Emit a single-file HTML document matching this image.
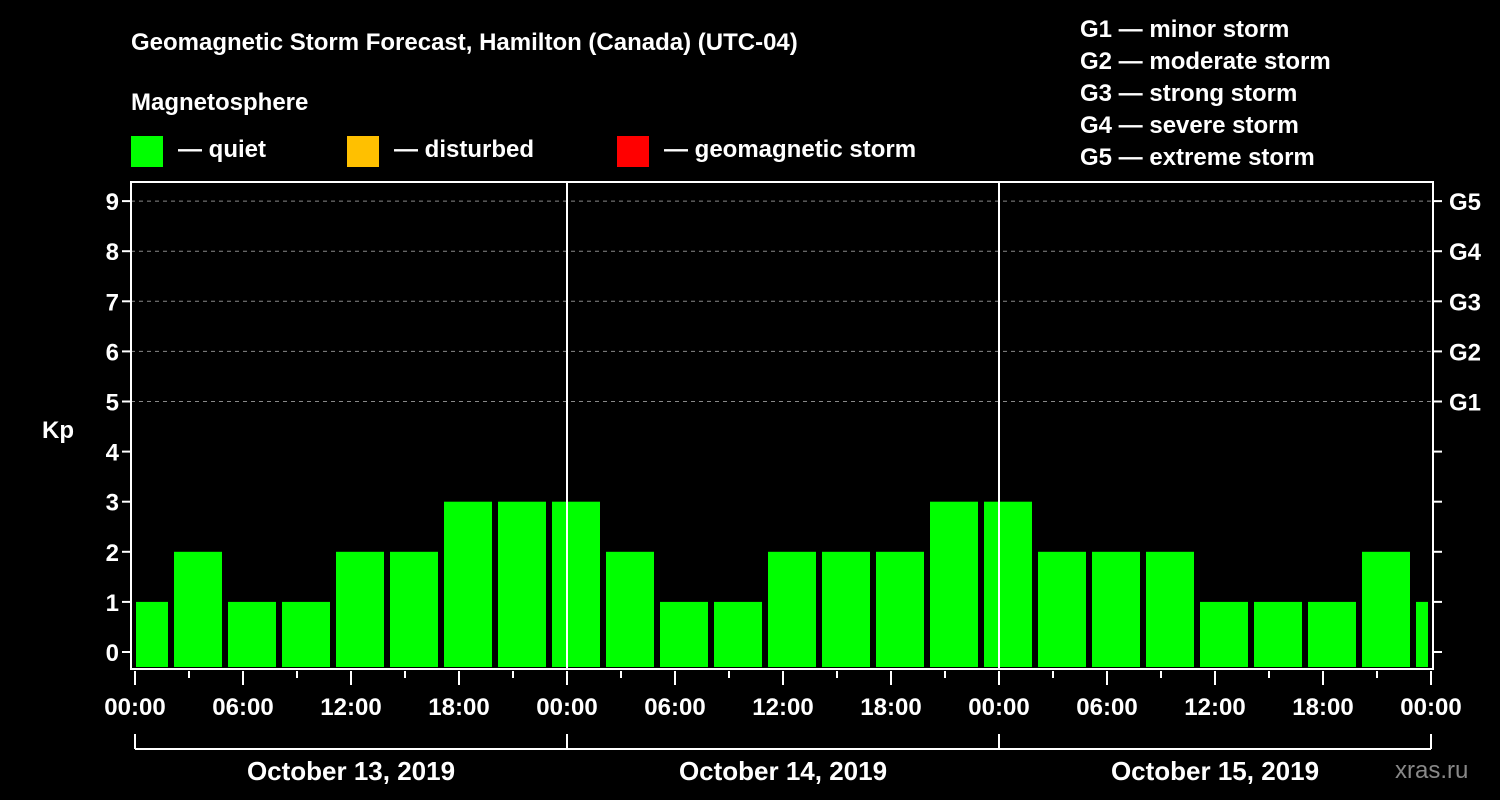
<!DOCTYPE html>
<html><head><meta charset="utf-8"><style>
html,body{margin:0;padding:0;background:#000;}
svg{display:block;font-family:"Liberation Sans",Arial,sans-serif;font-weight:bold;}
</style></head><body>
<svg id="chart" width="1500" height="800" viewBox="0 0 1500 800">
<rect width="1500" height="800" fill="#000"/>
<text x="131" y="50" fill="#fff" font-size="24">Geomagnetic Storm Forecast, Hamilton (Canada) (UTC-04)</text>
<text x="131" y="110" fill="#fff" font-size="24">Magnetosphere</text>
<g>
<rect x="131" y="136" width="32" height="31" fill="#00ff00"/>
<text x="178" y="157" fill="#fff" font-size="24">— quiet</text>
<rect x="347" y="136" width="32" height="31" fill="#ffc000"/>
<text x="394" y="157" fill="#fff" font-size="24">— disturbed</text>
<rect x="617" y="136" width="32" height="31" fill="#ff0000"/>
<text x="664" y="157" fill="#fff" font-size="24">— geomagnetic storm</text>
</g>
<g fill="#fff" font-size="24">
<text x="1080" y="37">G1 — minor storm</text>
<text x="1080" y="69">G2 — moderate storm</text>
<text x="1080" y="101">G3 — strong storm</text>
<text x="1080" y="133">G4 — severe storm</text>
<text x="1080" y="165">G5 — extreme storm</text>
</g>
<text x="42" y="438" fill="#fff" font-size="24">Kp</text>
<text x="1395" y="778" fill="#888" font-size="24" font-weight="normal">xras.ru</text>
<g id="plot"></g>
</svg>
<script>
const kpValues=[1,2,1,1,2,2,3,3,3,2,1,1,2,2,2,3,3,2,2,2,1,1,1,2,1];
const yTicks=[0,1,2,3,4,5,6,7,8,9];
const gLabels=["","","","","","G1","G2","G3","G4","G5"];
const xTickLabels=["00:00","06:00","12:00","18:00","00:00","06:00","12:00","18:00","00:00","06:00","12:00","18:00","00:00"];
const dateLabels=["October 13, 2019","October 14, 2019","October 15, 2019"];
const NS="http://www.w3.org/2000/svg";
const X0=135,PXH=18,Y0=652,PXV=50.1,L=131,R=1433,T=182,B=669;
const xs=h=>X0+h*PXH, ys=v=>Y0-v*PXV;
const g=document.getElementById('plot');
function mk(tag,attrs,parent){const e=document.createElementNS(NS,tag);for(const k in attrs)e.setAttribute(k,attrs[k]);(parent||g).appendChild(e);return e;}
const defs=mk('defs',{});
const cp=mk('clipPath',{id:'clip'},defs);
mk('rect',{x:136,y:T,width:1428-136,height:B-T},cp);
// grid
yTicks.forEach(v=>{if(v>=5){const l=mk('line',{x1:L,x2:R,y1:ys(v),y2:ys(v),stroke:'#888','stroke-dasharray':'4,4','stroke-width':1});

}});
// bars
const bg=mk('g',{'clip-path':'url(#clip)'});
kpValues.forEach((v,i)=>{const h=3*i-1;const r=mk('rect',{x:xs(h)+3,y:ys(v),width:3*PXH-6,height:B-2-ys(v),fill:'#00ff00'},bg);

});
// day separators
[1,2].forEach(d=>{const l=mk('line',{x1:xs(24*d),x2:xs(24*d),y1:T,y2:B,stroke:'#fff','stroke-width':2});

});
// frame
const f=mk('rect',{x:L,y:T,width:R-L,height:B-T,fill:'none',stroke:'#fff','stroke-width':2});


// y ticks
yTicks.forEach(v=>{
mk('line',{x1:L-9,x2:L,y1:ys(v),y2:ys(v),stroke:'#fff','stroke-width':2});
mk('line',{x1:R,x2:R+9,y1:ys(v),y2:ys(v),stroke:'#fff','stroke-width':2});
const t=mk('text',{x:L-12,y:ys(v)+9,fill:'#fff','font-size':24,'text-anchor':'end'});t.textContent=v;


if(gLabels[v]){const gt=mk('text',{x:1449,y:ys(v)+9,fill:'#fff','font-size':24});gt.textContent=gLabels[v];

}
});
// x ticks
for(let h=0;h<=72;h+=3){const long=h%6===0;mk('line',{x1:xs(h),x2:xs(h),y1:B+2,y2:long?B+16:B+9,stroke:'#fff','stroke-width':2});}
xTickLabels.forEach((s,i)=>{const t=mk('text',{x:xs(6*i),y:715,fill:'#fff','font-size':24,'text-anchor':'middle'});t.textContent=s;

});
// date bracket
mk('line',{x1:xs(0),x2:xs(72),y1:749,y2:749,stroke:'#fff','stroke-width':2});
for(let d=0;d<=3;d++)mk('line',{x1:xs(24*d),x2:xs(24*d),y1:734,y2:749,stroke:'#fff','stroke-width':2});
dateLabels.forEach((s,i)=>{const t=mk('text',{x:xs(24*i+12),y:780,fill:'#fff','font-size':26,'text-anchor':'middle'});t.textContent=s;

});
</script>
</body></html>
